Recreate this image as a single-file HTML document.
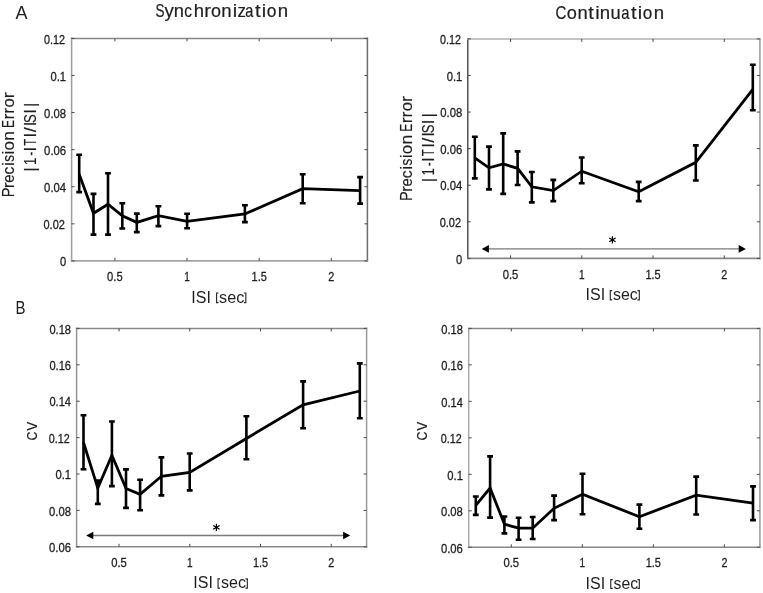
<!DOCTYPE html>
<html><head><meta charset="utf-8"><title>Figure</title>
<style>html,body{margin:0;padding:0;background:#fff;overflow:hidden}svg{display:block;will-change:transform}.tk{stroke:#1e1e1e;stroke-width:0.3px}.tt{stroke:#1e1e1e;stroke-width:0.2px}.tv{stroke:#1e1e1e;stroke-width:0.15px}</style></head>
<body><svg width="763" height="593" viewBox="0 0 763 593" font-family='"Liberation Sans", sans-serif' fill="#1e1e1e">
<rect width="763" height="593" fill="#fff"/>
<path d="M71.6 37.65V261.65" stroke="#9c9c9c" stroke-width="1.5"/>
<path d="M70.85 38.4H368.15" stroke="#888" stroke-width="1.5"/>
<path d="M367.4 37.65V261.65" stroke="#6e6e6e" stroke-width="1.5"/>
<path d="M70.85 260.9H368.15" stroke="#a4a4a4" stroke-width="1.6"/>
<path d="M71.6 260.9h3M367.4 260.9h-3M71.6 223.82h3M367.4 223.82h-3M71.6 186.73h3M367.4 186.73h-3M71.6 149.65h3M367.4 149.65h-3M71.6 112.57h3M367.4 112.57h-3M71.6 75.48h3M367.4 75.48h-3M71.6 38.4h3M367.4 38.4h-3M114.89 260.9v-3M114.89 38.4v3M187.03 260.9v-3M187.03 38.4v3M259.18 260.9v-3M259.18 38.4v3M331.33 260.9v-3M331.33 38.4v3" stroke="#4a4a4a" stroke-width="1" fill="none"/>
<text x="66.1" y="266.1" text-anchor="end" font-size="12.8" textLength="6.2" lengthAdjust="spacingAndGlyphs" class="tk">0</text>
<text x="64.9" y="229.02" text-anchor="end" font-size="12.8" textLength="21.4" lengthAdjust="spacingAndGlyphs" class="tk">0.02</text>
<text x="66.1" y="191.93" text-anchor="end" font-size="12.8" textLength="22" lengthAdjust="spacingAndGlyphs" class="tk">0.04</text>
<text x="66.1" y="154.85" text-anchor="end" font-size="12.8" textLength="22" lengthAdjust="spacingAndGlyphs" class="tk">0.06</text>
<text x="66.1" y="117.77" text-anchor="end" font-size="12.8" textLength="22" lengthAdjust="spacingAndGlyphs" class="tk">0.08</text>
<text x="66.1" y="80.68" text-anchor="end" font-size="12.8" textLength="15.6" lengthAdjust="spacingAndGlyphs" class="tk">0.1</text>
<text x="64.9" y="43.6" text-anchor="end" font-size="12.8" textLength="21" lengthAdjust="spacingAndGlyphs" class="tk">0.12</text>
<text x="114.89" y="280.8" text-anchor="middle" font-size="12.8" textLength="15.6" lengthAdjust="spacingAndGlyphs" class="tk">0.5</text>
<text x="187.03" y="280.8" text-anchor="middle" font-size="12.8" textLength="5.6" lengthAdjust="spacingAndGlyphs" class="tk">1</text>
<text x="259.18" y="280.8" text-anchor="middle" font-size="12.8" textLength="15.2" lengthAdjust="spacingAndGlyphs" class="tk">1.5</text>
<text x="331.33" y="280.8" text-anchor="middle" font-size="12.8" textLength="6.0" lengthAdjust="spacingAndGlyphs" class="tk">2</text>
<polyline points="79.2,174.2 93.5,213.3 108,204.2 122.3,215.9 136.8,222.4 158.4,215.6 187.1,221.4 244.9,214 302.7,188.6 360.1,190.6" fill="none" stroke="#000" stroke-width="2.8" stroke-linejoin="miter" stroke-miterlimit="3"/>
<path d="M79.2 154.7V192.1M76.3 154.7h5.8M76.3 192.1h5.8M93.5 193.9V234.6M90.6 193.9h5.8M90.6 234.6h5.8M108 173.3V234.6M105.1 173.3h5.8M105.1 234.6h5.8M122.3 203.2V228.5M119.4 203.2h5.8M119.4 228.5h5.8M136.8 213.6V232.1M133.9 213.6h5.8M133.9 232.1h5.8M158.4 206.3V226.1M155.5 206.3h5.8M155.5 226.1h5.8M187.1 213.7V228.2M184.2 213.7h5.8M184.2 228.2h5.8M244.9 205.3V222.1M242 205.3h5.8M242 222.1h5.8M302.7 174.2V203.2M299.8 174.2h5.8M299.8 203.2h5.8M360.1 177.1V203.6M357.2 177.1h5.8M357.2 203.6h5.8" stroke="#000" stroke-width="2.6" fill="none"/>
<path d="M467.8 38.15V259.15" stroke="#505050" stroke-width="1.5"/>
<path d="M467.05 38.9H760.65" stroke="#b0b0b0" stroke-width="1.5"/>
<path d="M759.9 38.15V259.15" stroke="#9c9c9c" stroke-width="1.5"/>
<path d="M467.05 258.4H760.65" stroke="#888" stroke-width="1.6"/>
<path d="M467.8 258.4h3M759.9 258.4h-3M467.8 221.82h3M759.9 221.82h-3M467.8 185.23h3M759.9 185.23h-3M467.8 148.65h3M759.9 148.65h-3M467.8 112.07h3M759.9 112.07h-3M467.8 75.48h3M759.9 75.48h-3M467.8 38.9h3M759.9 38.9h-3M510.55 258.4v-3M510.55 38.9v3M581.79 258.4v-3M581.79 38.9v3M653.03 258.4v-3M653.03 38.9v3M724.28 258.4v-3M724.28 38.9v3" stroke="#4a4a4a" stroke-width="1" fill="none"/>
<text x="462.3" y="263.6" text-anchor="end" font-size="12.8" textLength="6.2" lengthAdjust="spacingAndGlyphs" class="tk">0</text>
<text x="461.1" y="227.02" text-anchor="end" font-size="12.8" textLength="21.4" lengthAdjust="spacingAndGlyphs" class="tk">0.02</text>
<text x="462.3" y="190.43" text-anchor="end" font-size="12.8" textLength="22" lengthAdjust="spacingAndGlyphs" class="tk">0.04</text>
<text x="462.3" y="153.85" text-anchor="end" font-size="12.8" textLength="22" lengthAdjust="spacingAndGlyphs" class="tk">0.06</text>
<text x="462.3" y="117.27" text-anchor="end" font-size="12.8" textLength="22" lengthAdjust="spacingAndGlyphs" class="tk">0.08</text>
<text x="462.3" y="80.68" text-anchor="end" font-size="12.8" textLength="15.6" lengthAdjust="spacingAndGlyphs" class="tk">0.1</text>
<text x="461.1" y="44.1" text-anchor="end" font-size="12.8" textLength="21" lengthAdjust="spacingAndGlyphs" class="tk">0.12</text>
<text x="510.55" y="278.5" text-anchor="middle" font-size="12.8" textLength="15.6" lengthAdjust="spacingAndGlyphs" class="tk">0.5</text>
<text x="581.79" y="278.5" text-anchor="middle" font-size="12.8" textLength="5.6" lengthAdjust="spacingAndGlyphs" class="tk">1</text>
<text x="653.03" y="278.5" text-anchor="middle" font-size="12.8" textLength="15.2" lengthAdjust="spacingAndGlyphs" class="tk">1.5</text>
<text x="724.28" y="278.5" text-anchor="middle" font-size="12.8" textLength="6.0" lengthAdjust="spacingAndGlyphs" class="tk">2</text>
<polyline points="474.8,157.9 489,167.8 503.2,164 517.6,168.3 531.8,186.8 553.3,190.6 581.7,171.2 638.7,191.7 695.8,162.3 752.8,89.4" fill="none" stroke="#000" stroke-width="2.8" stroke-linejoin="miter" stroke-miterlimit="3"/>
<path d="M474.8 136.7V178.4M471.9 136.7h5.8M471.9 178.4h5.8M489 146.6V189.4M486.1 146.6h5.8M486.1 189.4h5.8M503.2 133.4V193.9M500.3 133.4h5.8M500.3 193.9h5.8M517.6 151.4V185M514.7 151.4h5.8M514.7 185h5.8M531.8 172V202.4M528.9 172h5.8M528.9 202.4h5.8M553.3 179.9V201.1M550.4 179.9h5.8M550.4 201.1h5.8M581.7 157.5V183.3M578.8 157.5h5.8M578.8 183.3h5.8M638.7 181.9V201.1M635.8 181.9h5.8M635.8 201.1h5.8M695.8 145.4V180.5M692.9 145.4h5.8M692.9 180.5h5.8M752.8 64.7V110.2M749.9 64.7h5.8M749.9 110.2h5.8" stroke="#000" stroke-width="2.6" fill="none"/>
<path d="M76.6 327.65V547.55" stroke="#949494" stroke-width="1.5"/>
<path d="M75.85 328.4H367.35" stroke="#888" stroke-width="1.5"/>
<path d="M366.6 327.65V547.55" stroke="#9c9c9c" stroke-width="1.5"/>
<path d="M75.85 546.8H367.35" stroke="#888" stroke-width="1.6"/>
<path d="M76.6 546.8h3M366.6 546.8h-3M76.6 510.4h3M366.6 510.4h-3M76.6 474h3M366.6 474h-3M76.6 437.6h3M366.6 437.6h-3M76.6 401.2h3M366.6 401.2h-3M76.6 364.8h3M366.6 364.8h-3M76.6 328.4h3M366.6 328.4h-3M119.04 546.8v-3M119.04 328.4v3M189.77 546.8v-3M189.77 328.4v3M260.5 546.8v-3M260.5 328.4v3M331.23 546.8v-3M331.23 328.4v3" stroke="#4a4a4a" stroke-width="1" fill="none"/>
<text x="71" y="552" text-anchor="end" font-size="12.8" textLength="22" lengthAdjust="spacingAndGlyphs" class="tk">0.06</text>
<text x="71" y="515.6" text-anchor="end" font-size="12.8" textLength="22" lengthAdjust="spacingAndGlyphs" class="tk">0.08</text>
<text x="71" y="479.2" text-anchor="end" font-size="12.8" textLength="15.6" lengthAdjust="spacingAndGlyphs" class="tk">0.1</text>
<text x="69.8" y="442.8" text-anchor="end" font-size="12.8" textLength="21" lengthAdjust="spacingAndGlyphs" class="tk">0.12</text>
<text x="71" y="406.4" text-anchor="end" font-size="12.8" textLength="21.6" lengthAdjust="spacingAndGlyphs" class="tk">0.14</text>
<text x="71" y="370" text-anchor="end" font-size="12.8" textLength="21.6" lengthAdjust="spacingAndGlyphs" class="tk">0.16</text>
<text x="71" y="333.6" text-anchor="end" font-size="12.8" textLength="21.6" lengthAdjust="spacingAndGlyphs" class="tk">0.18</text>
<text x="119.04" y="566.5" text-anchor="middle" font-size="12.8" textLength="15.6" lengthAdjust="spacingAndGlyphs" class="tk">0.5</text>
<text x="189.77" y="566.5" text-anchor="middle" font-size="12.8" textLength="5.6" lengthAdjust="spacingAndGlyphs" class="tk">1</text>
<text x="260.5" y="566.5" text-anchor="middle" font-size="12.8" textLength="15.2" lengthAdjust="spacingAndGlyphs" class="tk">1.5</text>
<text x="331.23" y="566.5" text-anchor="middle" font-size="12.8" textLength="6.0" lengthAdjust="spacingAndGlyphs" class="tk">2</text>
<polyline points="83.5,442.5 97.8,488.1 111.9,455.3 126,488.5 140.1,494.3 161.4,476.3 189.7,472.5 246.4,438.5 303.1,404.9 359.8,391" fill="none" stroke="#000" stroke-width="2.8" stroke-linejoin="miter" stroke-miterlimit="3"/>
<path d="M83.5 415.3V469.3M80.6 415.3h5.8M80.6 469.3h5.8M97.8 480.6V503.9M94.9 480.6h5.8M94.9 503.9h5.8M111.9 421.5V486.1M109 421.5h5.8M109 486.1h5.8M126 469.4V507.9M123.1 469.4h5.8M123.1 507.9h5.8M140.1 479.7V510.3M137.2 479.7h5.8M137.2 510.3h5.8M161.4 457.4V495.4M158.5 457.4h5.8M158.5 495.4h5.8M189.7 453.5V490.4M186.8 453.5h5.8M186.8 490.4h5.8M246.4 416.2V459.2M243.5 416.2h5.8M243.5 459.2h5.8M303.1 381.4V428.3M300.2 381.4h5.8M300.2 428.3h5.8M359.8 363.4V418.3M356.9 363.4h5.8M356.9 418.3h5.8" stroke="#000" stroke-width="2.6" fill="none"/>
<path d="M468.7 327.65V548.05" stroke="#a8a8a8" stroke-width="1.5"/>
<path d="M467.95 328.4H760.65" stroke="#888" stroke-width="1.5"/>
<path d="M759.9 327.65V548.05" stroke="#9a9a9a" stroke-width="1.5"/>
<path d="M467.95 547.3H760.65" stroke="#888" stroke-width="1.6"/>
<path d="M468.7 547.3h3M759.9 547.3h-3M468.7 510.82h3M759.9 510.82h-3M468.7 474.33h3M759.9 474.33h-3M468.7 437.85h3M759.9 437.85h-3M468.7 401.37h3M759.9 401.37h-3M468.7 364.88h3M759.9 364.88h-3M468.7 328.4h3M759.9 328.4h-3M511.31 547.3v-3M511.31 328.4v3M582.34 547.3v-3M582.34 328.4v3M653.36 547.3v-3M653.36 328.4v3M724.39 547.3v-3M724.39 328.4v3" stroke="#4a4a4a" stroke-width="1" fill="none"/>
<text x="462.9" y="552.5" text-anchor="end" font-size="12.8" textLength="22" lengthAdjust="spacingAndGlyphs" class="tk">0.06</text>
<text x="462.9" y="516.02" text-anchor="end" font-size="12.8" textLength="22" lengthAdjust="spacingAndGlyphs" class="tk">0.08</text>
<text x="462.9" y="479.53" text-anchor="end" font-size="12.8" textLength="15.6" lengthAdjust="spacingAndGlyphs" class="tk">0.1</text>
<text x="461.7" y="443.05" text-anchor="end" font-size="12.8" textLength="21" lengthAdjust="spacingAndGlyphs" class="tk">0.12</text>
<text x="462.9" y="406.57" text-anchor="end" font-size="12.8" textLength="21.6" lengthAdjust="spacingAndGlyphs" class="tk">0.14</text>
<text x="462.9" y="370.08" text-anchor="end" font-size="12.8" textLength="21.6" lengthAdjust="spacingAndGlyphs" class="tk">0.16</text>
<text x="462.9" y="333.6" text-anchor="end" font-size="12.8" textLength="21.6" lengthAdjust="spacingAndGlyphs" class="tk">0.18</text>
<text x="511.31" y="567.3" text-anchor="middle" font-size="12.8" textLength="15.6" lengthAdjust="spacingAndGlyphs" class="tk">0.5</text>
<text x="582.34" y="567.3" text-anchor="middle" font-size="12.8" textLength="5.6" lengthAdjust="spacingAndGlyphs" class="tk">1</text>
<text x="653.36" y="567.3" text-anchor="middle" font-size="12.8" textLength="15.2" lengthAdjust="spacingAndGlyphs" class="tk">1.5</text>
<text x="724.39" y="567.3" text-anchor="middle" font-size="12.8" textLength="6.0" lengthAdjust="spacingAndGlyphs" class="tk">2</text>
<polyline points="475.8,505.3 490.1,488 504.4,524.2 518.6,528.2 532.7,528.2 554.1,508.3 582.5,494.3 639.4,516.7 696.2,495.2 753,503.1" fill="none" stroke="#000" stroke-width="2.8" stroke-linejoin="miter" stroke-miterlimit="3"/>
<path d="M475.8 496.5V514.9M472.9 496.5h5.8M472.9 514.9h5.8M490.1 456.4V517.6M487.2 456.4h5.8M487.2 517.6h5.8M504.4 516.5V533.4M501.5 516.5h5.8M501.5 533.4h5.8M518.6 517.8V539.8M515.7 517.8h5.8M515.7 539.8h5.8M532.7 517V539M529.8 517h5.8M529.8 539h5.8M554.1 495.6V520.1M551.2 495.6h5.8M551.2 520.1h5.8M582.5 473.7V514.2M579.6 473.7h5.8M579.6 514.2h5.8M639.4 504.6V528.8M636.5 504.6h5.8M636.5 528.8h5.8M696.2 476.6V514.5M693.3 476.6h5.8M693.3 514.5h5.8M753 486.4V520.1M750.1 486.4h5.8M750.1 520.1h5.8" stroke="#000" stroke-width="2.6" fill="none"/>
<line x1="484.7" y1="248.9" x2="742.9" y2="248.9" stroke="#7a7a7a" stroke-width="1.4"/>
<path d="M481.7 248.9l7.2 -3.8v7.6z" fill="#000"/>
<path d="M745.9 248.9l-7.2 -3.8v7.6z" fill="#000"/>
<path d="M612.4 243.6L612.4 236.2M609.2 241.75L615.6 238.05M609.2 238.05L615.6 241.75" stroke="#000" stroke-width="1.25" fill="none"/>
<circle cx="612.4" cy="239.9" r="1.05" fill="#000"/>
<line x1="89.1" y1="535.5" x2="347.3" y2="535.5" stroke="#7a7a7a" stroke-width="1.4"/>
<path d="M86.1 535.5l7.2 -3.8v7.6z" fill="#000"/>
<path d="M350.3 535.5l-7.2 -3.8v7.6z" fill="#000"/>
<path d="M216.4 531.1L216.4 523.7M213.2 529.25L219.6 525.55M213.2 525.55L219.6 529.25" stroke="#000" stroke-width="1.25" fill="none"/>
<circle cx="216.4" cy="527.4" r="1.05" fill="#000"/>
<text x="155.38" y="16.9" font-size="18.5" textLength="9.04" lengthAdjust="spacingAndGlyphs" class="tt">S</text>
<text x="164.45" y="16.9" font-size="18.5" textLength="9.28" lengthAdjust="spacingAndGlyphs" class="tt">y</text>
<text x="173.78" y="16.9" font-size="18.5" textLength="10.21" lengthAdjust="spacingAndGlyphs" class="tt">n</text>
<text x="184.15" y="16.9" font-size="18.5" textLength="7.65" lengthAdjust="spacingAndGlyphs" class="tt">c</text>
<text x="193.72" y="16.9" font-size="18.5" textLength="10.28" lengthAdjust="spacingAndGlyphs" class="tt">h</text>
<text x="204.38" y="16.9" font-size="18.5" textLength="6.65" lengthAdjust="spacingAndGlyphs" class="tt">r</text>
<text x="211.04" y="16.9" font-size="18.5" textLength="10.01" lengthAdjust="spacingAndGlyphs" class="tt">o</text>
<text x="221.37" y="16.9" font-size="18.5" textLength="10.34" lengthAdjust="spacingAndGlyphs" class="tt">n</text>
<text x="232.79" y="16.9" font-size="18.5" textLength="4.44" lengthAdjust="spacingAndGlyphs" class="tt">i</text>
<text x="237.62" y="16.9" font-size="18.5" textLength="8.42" lengthAdjust="spacingAndGlyphs" class="tt">z</text>
<text x="245.28" y="16.9" font-size="18.5" textLength="8.12" lengthAdjust="spacingAndGlyphs" class="tt">a</text>
<text x="255" y="16.9" font-size="18.5" textLength="5.55" lengthAdjust="spacingAndGlyphs" class="tt">t</text>
<text x="261.89" y="16.9" font-size="18.5" textLength="4.44" lengthAdjust="spacingAndGlyphs" class="tt">i</text>
<text x="266.77" y="16.9" font-size="18.5" textLength="9.66" lengthAdjust="spacingAndGlyphs" class="tt">o</text>
<text x="277.77" y="16.9" font-size="18.5" textLength="10.34" lengthAdjust="spacingAndGlyphs" class="tt">n</text>
<text x="555.54" y="18.9" font-size="18.5" textLength="10.83" lengthAdjust="spacingAndGlyphs" class="tt">C</text>
<text x="566.64" y="18.9" font-size="18.5" textLength="10.13" lengthAdjust="spacingAndGlyphs" class="tt">o</text>
<text x="577.38" y="18.9" font-size="18.5" textLength="10.21" lengthAdjust="spacingAndGlyphs" class="tt">n</text>
<text x="588.35" y="18.9" font-size="18.5" textLength="5.55" lengthAdjust="spacingAndGlyphs" class="tt">t</text>
<text x="595.24" y="18.9" font-size="18.5" textLength="4.44" lengthAdjust="spacingAndGlyphs" class="tt">i</text>
<text x="599.67" y="18.9" font-size="18.5" textLength="10.34" lengthAdjust="spacingAndGlyphs" class="tt">n</text>
<text x="610.61" y="18.9" font-size="18.5" textLength="10.21" lengthAdjust="spacingAndGlyphs" class="tt">u</text>
<text x="621.27" y="18.9" font-size="18.5" textLength="8.23" lengthAdjust="spacingAndGlyphs" class="tt">a</text>
<text x="630.9" y="18.9" font-size="18.5" textLength="5.55" lengthAdjust="spacingAndGlyphs" class="tt">t</text>
<text x="637.74" y="18.9" font-size="18.5" textLength="4.44" lengthAdjust="spacingAndGlyphs" class="tt">i</text>
<text x="642.78" y="18.9" font-size="18.5" textLength="9.54" lengthAdjust="spacingAndGlyphs" class="tt">o</text>
<text x="653.67" y="18.9" font-size="18.5" textLength="10.34" lengthAdjust="spacingAndGlyphs" class="tt">n</text>
<text x="15.6" y="18.5" font-size="18">A</text>
<text x="15.4" y="313.6" font-size="18" textLength="10" lengthAdjust="spacingAndGlyphs">B</text>
<text transform="translate(13.9 197.19) rotate(-90)" font-size="16.5" textLength="9.65" lengthAdjust="spacingAndGlyphs" class="tv">P</text>
<text transform="translate(13.9 188.27) rotate(-90)" font-size="16.5" textLength="5.86" lengthAdjust="spacingAndGlyphs" class="tv">r</text>
<text transform="translate(13.9 182.74) rotate(-90)" font-size="16.5" textLength="8.42" lengthAdjust="spacingAndGlyphs" class="tv">e</text>
<text transform="translate(13.9 174.56) rotate(-90)" font-size="16.5" textLength="7.77" lengthAdjust="spacingAndGlyphs" class="tv">c</text>
<text transform="translate(13.9 165.73) rotate(-90)" font-size="16.5" textLength="3.67" lengthAdjust="spacingAndGlyphs" class="tv">i</text>
<text transform="translate(13.9 161.68) rotate(-90)" font-size="16.5" textLength="6.77" lengthAdjust="spacingAndGlyphs" class="tv">s</text>
<text transform="translate(13.9 154.23) rotate(-90)" font-size="16.5" textLength="3.67" lengthAdjust="spacingAndGlyphs" class="tv">i</text>
<text transform="translate(13.9 150.51) rotate(-90)" font-size="16.5" textLength="9.42" lengthAdjust="spacingAndGlyphs" class="tv">o</text>
<text transform="translate(13.9 140.86) rotate(-90)" font-size="16.5" textLength="9.69" lengthAdjust="spacingAndGlyphs" class="tv">n</text>
<text transform="translate(13.9 127.98) rotate(-90)" font-size="16.5" textLength="8" lengthAdjust="spacingAndGlyphs" class="tv">E</text>
<text transform="translate(13.9 119.47) rotate(-90)" font-size="16.5" textLength="5.86" lengthAdjust="spacingAndGlyphs" class="tv">r</text>
<text transform="translate(13.9 113.77) rotate(-90)" font-size="16.5" textLength="5.86" lengthAdjust="spacingAndGlyphs" class="tv">r</text>
<text transform="translate(13.9 107.6) rotate(-90)" font-size="16.5" textLength="9.31" lengthAdjust="spacingAndGlyphs" class="tv">o</text>
<text transform="translate(13.9 98.21) rotate(-90)" font-size="16.5" textLength="5.93" lengthAdjust="spacingAndGlyphs" class="tv">r</text>
<text transform="translate(35.7 171.84) rotate(-90)" font-size="16.5" textLength="4.29" lengthAdjust="spacingAndGlyphs" class="tv">|</text>
<text transform="translate(35.7 165.01) rotate(-90)" font-size="16.5" textLength="7.35" lengthAdjust="spacingAndGlyphs" class="tv">1</text>
<text transform="translate(35.7 155.75) rotate(-90)" font-size="16.5" textLength="4.09" lengthAdjust="spacingAndGlyphs" class="tv">-</text>
<text transform="translate(35.7 151.49) rotate(-90)" font-size="16.5" textLength="4.58" lengthAdjust="spacingAndGlyphs" class="tv">I</text>
<text transform="translate(35.7 145.76) rotate(-90)" font-size="16.5" textLength="7.02" lengthAdjust="spacingAndGlyphs" class="tv">T</text>
<text transform="translate(35.7 137.39) rotate(-90)" font-size="16.5" textLength="4.58" lengthAdjust="spacingAndGlyphs" class="tv">I</text>
<text transform="translate(35.7 132.33) rotate(-90)" font-size="16.5" textLength="4.95" lengthAdjust="spacingAndGlyphs" class="tv">/</text>
<text transform="translate(35.7 126.29) rotate(-90)" font-size="16.5" textLength="4.58" lengthAdjust="spacingAndGlyphs" class="tv">I</text>
<text transform="translate(35.7 122.89) rotate(-90)" font-size="16.5" textLength="8.69" lengthAdjust="spacingAndGlyphs" class="tv">S</text>
<text transform="translate(35.7 113.79) rotate(-90)" font-size="16.5" textLength="4.58" lengthAdjust="spacingAndGlyphs" class="tv">I</text>
<text transform="translate(35.7 107.04) rotate(-90)" font-size="16.5" textLength="4.29" lengthAdjust="spacingAndGlyphs" class="tv">|</text>
<text transform="translate(412.4 200.94) rotate(-90)" font-size="16.5" textLength="9.65" lengthAdjust="spacingAndGlyphs" class="tv">P</text>
<text transform="translate(412.4 192.02) rotate(-90)" font-size="16.5" textLength="5.86" lengthAdjust="spacingAndGlyphs" class="tv">r</text>
<text transform="translate(412.4 186.49) rotate(-90)" font-size="16.5" textLength="8.42" lengthAdjust="spacingAndGlyphs" class="tv">e</text>
<text transform="translate(412.4 178.31) rotate(-90)" font-size="16.5" textLength="7.77" lengthAdjust="spacingAndGlyphs" class="tv">c</text>
<text transform="translate(412.4 169.48) rotate(-90)" font-size="16.5" textLength="3.67" lengthAdjust="spacingAndGlyphs" class="tv">i</text>
<text transform="translate(412.4 165.43) rotate(-90)" font-size="16.5" textLength="6.77" lengthAdjust="spacingAndGlyphs" class="tv">s</text>
<text transform="translate(412.4 157.98) rotate(-90)" font-size="16.5" textLength="3.67" lengthAdjust="spacingAndGlyphs" class="tv">i</text>
<text transform="translate(412.4 154.26) rotate(-90)" font-size="16.5" textLength="9.42" lengthAdjust="spacingAndGlyphs" class="tv">o</text>
<text transform="translate(412.4 144.61) rotate(-90)" font-size="16.5" textLength="9.69" lengthAdjust="spacingAndGlyphs" class="tv">n</text>
<text transform="translate(412.4 131.73) rotate(-90)" font-size="16.5" textLength="8" lengthAdjust="spacingAndGlyphs" class="tv">E</text>
<text transform="translate(412.4 123.22) rotate(-90)" font-size="16.5" textLength="5.86" lengthAdjust="spacingAndGlyphs" class="tv">r</text>
<text transform="translate(412.4 117.52) rotate(-90)" font-size="16.5" textLength="5.86" lengthAdjust="spacingAndGlyphs" class="tv">r</text>
<text transform="translate(412.4 111.35) rotate(-90)" font-size="16.5" textLength="9.31" lengthAdjust="spacingAndGlyphs" class="tv">o</text>
<text transform="translate(412.4 101.96) rotate(-90)" font-size="16.5" textLength="5.93" lengthAdjust="spacingAndGlyphs" class="tv">r</text>
<text transform="translate(434.3 182.24) rotate(-90)" font-size="16.5" textLength="4.29" lengthAdjust="spacingAndGlyphs" class="tv">|</text>
<text transform="translate(434.3 175.41) rotate(-90)" font-size="16.5" textLength="7.35" lengthAdjust="spacingAndGlyphs" class="tv">1</text>
<text transform="translate(434.3 166.15) rotate(-90)" font-size="16.5" textLength="4.09" lengthAdjust="spacingAndGlyphs" class="tv">-</text>
<text transform="translate(434.3 161.89) rotate(-90)" font-size="16.5" textLength="4.58" lengthAdjust="spacingAndGlyphs" class="tv">I</text>
<text transform="translate(434.3 156.16) rotate(-90)" font-size="16.5" textLength="7.02" lengthAdjust="spacingAndGlyphs" class="tv">T</text>
<text transform="translate(434.3 147.79) rotate(-90)" font-size="16.5" textLength="4.58" lengthAdjust="spacingAndGlyphs" class="tv">I</text>
<text transform="translate(434.3 142.73) rotate(-90)" font-size="16.5" textLength="4.95" lengthAdjust="spacingAndGlyphs" class="tv">/</text>
<text transform="translate(434.3 136.69) rotate(-90)" font-size="16.5" textLength="4.58" lengthAdjust="spacingAndGlyphs" class="tv">I</text>
<text transform="translate(434.3 133.29) rotate(-90)" font-size="16.5" textLength="8.69" lengthAdjust="spacingAndGlyphs" class="tv">S</text>
<text transform="translate(434.3 124.19) rotate(-90)" font-size="16.5" textLength="4.58" lengthAdjust="spacingAndGlyphs" class="tv">I</text>
<text transform="translate(434.3 117.44) rotate(-90)" font-size="16.5" textLength="4.29" lengthAdjust="spacingAndGlyphs" class="tv">|</text>
<text transform="translate(37 440.43) rotate(-90)" font-size="15.2" textLength="9.01" lengthAdjust="spacingAndGlyphs" class="tv">C</text>
<text transform="translate(37 430.76) rotate(-90)" font-size="15.2" textLength="9.02" lengthAdjust="spacingAndGlyphs" class="tv">V</text>
<text transform="translate(426.6 440.43) rotate(-90)" font-size="15.2" textLength="9.01" lengthAdjust="spacingAndGlyphs" class="tv">C</text>
<text transform="translate(426.6 430.76) rotate(-90)" font-size="15.2" textLength="9.02" lengthAdjust="spacingAndGlyphs" class="tv">V</text>
<text x="191.27" y="303.2" font-size="16.0">ISI</text>
<text x="219.05" y="303.2" font-size="16.0" textLength="25.28" lengthAdjust="spacingAndGlyphs">sec</text>
<path d="M218.5 292.98H216.57V302.62H218.5" stroke="#2a2a2a" stroke-width="1.15" fill="none"/>
<path d="M243.9 292.98H245.83V302.62H243.9" stroke="#2a2a2a" stroke-width="1.15" fill="none"/>
<text x="585.52" y="299.6" font-size="16.0">ISI</text>
<text x="613.06" y="299.6" font-size="16.0" textLength="24.76" lengthAdjust="spacingAndGlyphs">sec</text>
<path d="M612.2 290.68H610.28V299.93H612.2" stroke="#2a2a2a" stroke-width="1.15" fill="none"/>
<path d="M637.4 290.68H639.32V299.93H637.4" stroke="#2a2a2a" stroke-width="1.15" fill="none"/>
<text x="193.32" y="587.7" font-size="16.0">ISI</text>
<text x="221.05" y="587.7" font-size="16.0" textLength="24.97" lengthAdjust="spacingAndGlyphs">sec</text>
<path d="M220 578.88H218.07V588.12H220" stroke="#2a2a2a" stroke-width="1.15" fill="none"/>
<path d="M245.4 578.88H247.33V588.12H245.4" stroke="#2a2a2a" stroke-width="1.15" fill="none"/>
<text x="585.62" y="588.5" font-size="16.0">ISI</text>
<text x="613.56" y="588.5" font-size="16.0" textLength="24.45" lengthAdjust="spacingAndGlyphs">sec</text>
<path d="M612.7 579.58H610.78V588.42H612.7" stroke="#2a2a2a" stroke-width="1.15" fill="none"/>
<path d="M637.4 579.58H639.32V588.42H637.4" stroke="#2a2a2a" stroke-width="1.15" fill="none"/>
</svg></body></html>
